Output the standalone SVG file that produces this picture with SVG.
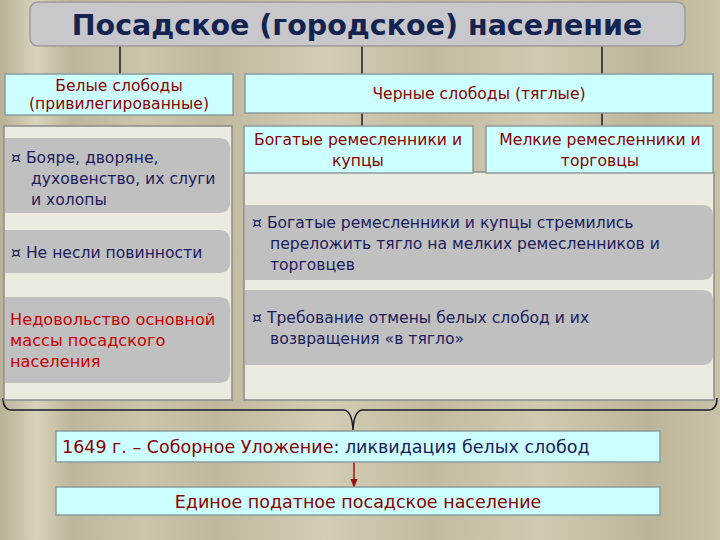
<svg xmlns="http://www.w3.org/2000/svg" width="720" height="540" viewBox="0 0 720 540">
<defs>
<linearGradient id="bg" x1="0" y1="0" x2="1" y2="0">
<stop offset="0" stop-color="#b9b196"/>
<stop offset="0.05" stop-color="#d8d3bd"/>
<stop offset="0.1" stop-color="#bdb69b"/>
<stop offset="0.2" stop-color="#cbc5ab"/>
<stop offset="0.3" stop-color="#bfb89d"/>
<stop offset="0.45" stop-color="#d3cdb6"/>
<stop offset="0.6" stop-color="#c2bba0"/>
<stop offset="0.75" stop-color="#d0cab2"/>
<stop offset="0.9" stop-color="#bcb599"/>
<stop offset="1" stop-color="#c8c2a8"/>
</linearGradient>
<marker id="ar" viewBox="0 0 10 10" refX="9" refY="5" markerWidth="6" markerHeight="6" orient="auto">
<path d="M0,1 L10,5 L0,9 Z" fill="#a01010"/>
</marker>
<style>
.t{font-family:"DejaVu Sans","Noto Sans",sans-serif;font-size:15.6px;fill:#1c1c5c}
.r{fill:#8b0000}
.rr{fill:#c80000;font-size:16.2px}
.big{font-size:17.5px}
.c{text-anchor:middle}
.cy{fill:#ccffff;stroke:#8c9c9c;stroke-width:1.5}
.gb{fill:#c0c0c0}
.pn{fill:#ecebdf;stroke:#8a8a8a;stroke-width:1.5}
.ln{stroke:#1a1a2a;stroke-width:1.5;fill:none}
.arr{stroke:#a01010;stroke-width:1.5;fill:none;marker-end:url(#ar)}
</style>
</defs>
<rect width="720" height="540" fill="url(#bg)"/>
<g id="connectors">
<line class="ln" x1="120" y1="46" x2="120" y2="74"/>
<line class="ln" x1="362" y1="46" x2="362" y2="74"/>
<line class="ln" x1="602" y1="46" x2="602" y2="74"/>
<line class="ln" x1="362" y1="113" x2="362" y2="126"/>
<line class="ln" x1="602" y1="113" x2="602" y2="126"/>
<path class="ln" d="M3,398 Q3,410 12,410 L344,410 Q352,411 353,430 Q354,411 362,410 L708,410 Q717,410 717,398" stroke-width="2"/>
<line class="arr" x1="120" y1="275" x2="120" y2="297"/>
<line class="arr" x1="354" y1="462" x2="354" y2="487"/>
</g>
<g id="title">
<rect x="30" y="2" width="655" height="44" rx="8" fill="#c8c8cc" stroke="#9a9a9a" stroke-width="1.5"/>
<text x="357" y="35" text-anchor="middle" font-family="DejaVu Sans, sans-serif" font-weight="bold" font-size="28.5" fill="#14234f">Посадское (городское) население</text>
</g>
<g id="white">
<rect class="cy" x="5" y="74" width="228" height="41"/>
<text class="t r c" x="119" y="91">Белые слободы</text>
<text class="t r c" x="119" y="109">(привилегированные)</text>
</g>
<g id="black">
<rect class="cy" x="245" y="74" width="468" height="39"/>
<text class="t r c" x="479" y="99">Черные слободы (тяглые)</text>
</g>
<g id="leftpanel">
<rect class="pn" x="4" y="126" width="228" height="274"/>
</g>
<g id="rightpanel">
<rect class="pn" x="244" y="172" width="470" height="228"/>
</g>
<g id="rich">
<rect class="cy" x="244" y="126" width="229" height="47"/>
<text class="t r c" x="358" y="145">Богатые ремесленники и</text>
<text class="t r c" x="358" y="166">купцы</text>
</g>
<g id="small">
<rect class="cy" x="486" y="126" width="227" height="47"/>
<text class="t r c" x="600" y="145">Мелкие ремесленники и</text>
<text class="t r c" x="600" y="166">торговцы</text>
</g>
<g id="boyars">
<path class="gb" d="M5,138 H219 Q230,138 230,149 V202 Q230,213 219,213 H5 Z"/>
<text class="t" x="11" y="163">¤ Бояре, дворяне,</text>
<text class="t" x="31" y="184">духовенство, их слуги</text>
<text class="t" x="31" y="205">и холопы</text>
</g>
<g id="noduty">
<path class="gb" d="M5,230 H219 Q230,230 230,241 V262 Q230,273 219,273 H5 Z"/>
<text class="t" x="11" y="258">¤ Не несли повинности</text>
</g>
<g id="discontent">
<path class="gb" d="M5,297 H219 Q230,297 230,308 V372 Q230,383 219,383 H5 Z"/>
<text class="t rr" x="10" y="325">Недовольство основной</text>
<text class="t rr" x="10" y="346">массы посадского</text>
<text class="t rr" x="10" y="367">населения</text>
</g>
<g id="shift">
<path class="gb" d="M245,205 H702 Q713,205 713,216 V269 Q713,280 702,280 H245 Z"/>
<text class="t" x="252" y="228">¤ Богатые ремесленники и купцы стремились</text>
<text class="t" x="270" y="249">переложить тягло на мелких ремесленников и</text>
<text class="t" x="270" y="270">торговцев</text>
</g>
<g id="demand">
<path class="gb" d="M245,290 H702 Q713,290 713,301 V354 Q713,365 702,365 H245 Z"/>
<text class="t" x="252" y="323">¤ Требование отмены белых слобод и их</text>
<text class="t" x="270" y="344">возвращения «в тягло»</text>
</g>
<g id="code1649">
<rect class="cy" x="56" y="431" width="604" height="31"/>
<text class="t big" x="62" y="453"><tspan class="r">1649 г. – Соборное Уложение</tspan>: ликвидация белых слобод</text>
</g>
<g id="unified">
<rect class="cy" x="56" y="487" width="604" height="28"/>
<text class="t r c big" x="358" y="508">Единое податное посадское население</text>
</g>
</svg>
